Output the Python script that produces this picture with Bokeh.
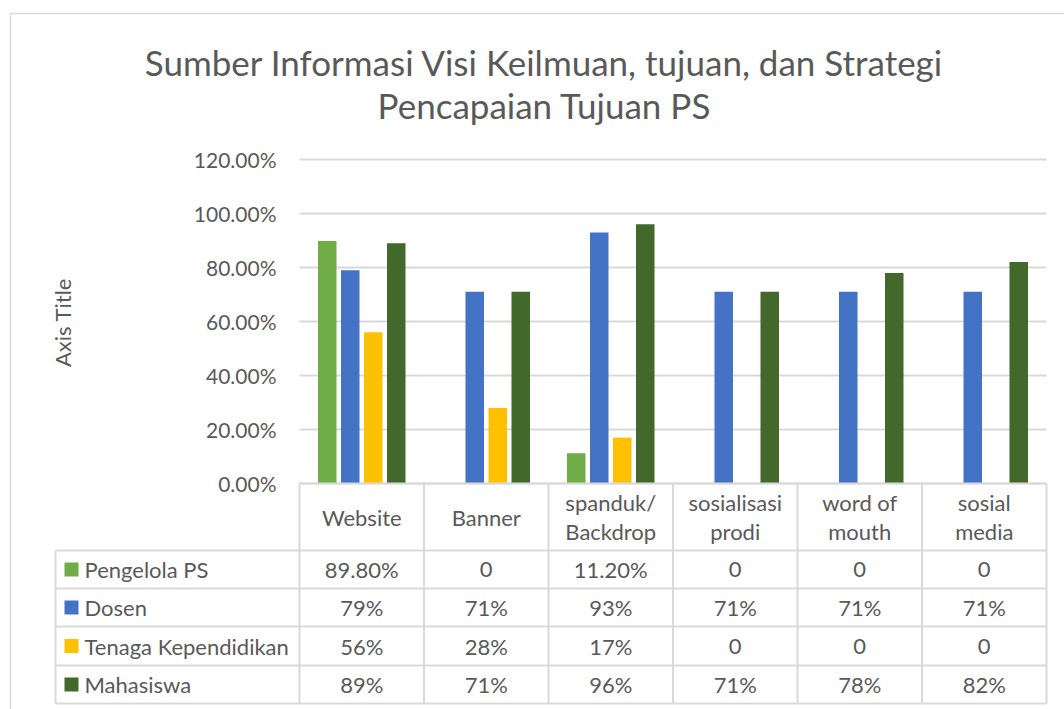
import math
from bokeh.plotting import figure
from bokeh.models import Range1d
from bokeh.embed import file_html
from bokeh.resources import INLINE
from bokeh.core.properties import value

# ---------------- data ----------------
title_lines = ["Sumber Informasi Visi Keilmuan, tujuan, dan Strategi",
               "Pencapaian Tujuan PS"]
categories = ["Website", "Banner", "spanduk/\nBackdrop", "sosialisasi\nprodi",
              "word of\nmouth", "sosial\nmedia"]
series_names = ["Pengelola PS", "Dosen", "Tenaga Kependidikan", "Mahasiswa"]
pengelola_ps = [0.898, 0, 0.112, 0, 0, 0]
dosen = [0.79, 0.71, 0.93, 0.71, 0.71, 0.71]
tenaga_kependidikan = [0.56, 0.28, 0.17, 0, 0, 0]
mahasiswa = [0.89, 0.71, 0.96, 0.71, 0.78, 0.82]
y_ticks = [0.0, 0.2, 0.4, 0.6, 0.8, 1.0, 1.2]
y_tick_labels = ["0.00%", "20.00%", "40.00%", "60.00%", "80.00%", "100.00%", "120.00%"]
value_formats = ["{:.2%}", "{:.0%}", "{:.0%}", "{:.0%}"]
axis_title = "Axis Title"

series_values = [pengelola_ps, dosen, tenaga_kependidikan, mahasiswa]
colors = ["#70AD47", "#4472C4", "#FFC000", "#43682B"]

# ---------------- layout (page pixels) ----------------
W, H = 1064, 709
OFF = 0
PLOT_L, PLOT_R = 299, 1046
ZERO_Y = 483
PX_PER_UNIT = 270.0
CAT_W = (PLOT_R - PLOT_L) / len(categories)
TEXT = "#595959"
LINE = "#d9d9d9"
FONT = value("Lato")


def dx(px):
    return (px - PLOT_L) / CAT_W


def dy(py):
    return (ZERO_Y - py) / PX_PER_UNIT


p = figure(width=W, height=H,
           x_range=Range1d(dx(OFF), dx(OFF + W)),
           y_range=Range1d(dy(OFF + H), dy(OFF)),
           output_backend="svg", toolbar_location=None,
           x_axis_location=None, y_axis_location=None,
           min_border=0, outline_line_color=None)
p.grid.visible = False
p.background_fill_color = "white"

# outer chart border
p.segment(x0=[dx(10), dx(10)], y0=[dy(13), dy(13)],
          x1=[dx(OFF + W + 5), dx(10)], y1=[dy(13), dy(OFF + H + 5)],
          line_color=LINE, line_width=1.5)

# title
for k, t in enumerate(title_lines):
    p.text(x=[dx(544)], y=[dy(61 + 43 * k)], text=[t], text_font=FONT,
           text_font_size="35px", text_color=TEXT,
           text_align="center", text_baseline="middle")

# gridlines
n = len(categories)
p.segment(x0=[0] * len(y_ticks), x1=[n] * len(y_ticks), y0=y_ticks, y1=y_ticks,
          line_color=LINE, line_width=2)

# y tick labels
p.text(x=[dx(276)] * len(y_ticks), y=y_ticks, text=y_tick_labels, text_font=FONT,
       text_font_size="21px", text_color=TEXT, text_align="right",
       text_baseline="middle")

# axis title
p.text(x=[dx(62)], y=[dy(322)], text=[axis_title], angle=math.pi / 2,
       text_font=FONT, text_font_size="22px", text_color=TEXT,
       text_align="center", text_baseline="middle")

# bars
step = 23.0 / CAT_W
bar_w = 18.5 / CAT_W
for j, (vals, col) in enumerate(zip(series_values, colors)):
    off = (j - 1.5) * step
    xs = [i + 0.5 + off for i in range(n)]
    p.vbar(x=xs, top=vals, bottom=0, width=bar_w, fill_color=col,
           line_color=None)

# data table
row_edges = [550, 588, 626, 665, 703]
tbl_l = 55
# horizontal lines
hx0 = [0] + [dx(tbl_l)] * len(row_edges)
hx1 = [n] * (1 + len(row_edges))
hy = [0] + [dy(r) for r in row_edges]
p.segment(x0=hx0, x1=hx1, y0=hy, y1=hy, line_color=LINE, line_width=2)
# vertical lines
vx = [dx(tbl_l)] + list(range(n + 1))
vy0 = [dy(row_edges[0])] + [0] * (n + 1)
vy1 = [dy(row_edges[-1])] * (n + 2)
p.segment(x0=vx, x1=vx, y0=vy0, y1=vy1, line_color=LINE, line_width=2)

# header (category names)
p.text(x=[i + 0.5 for i in range(n)], y=[dy((ZERO_Y + row_edges[0]) / 2)] * n,
       text=categories, text_font=FONT, text_font_size="22px", text_color=TEXT,
       text_align="center", text_baseline="middle", text_line_height=1.08)

# rows
for j, (name, vals, col, fmt) in enumerate(zip(series_names, series_values,
                                               colors, value_formats)):
    yc = dy((row_edges[j] + row_edges[j + 1]) / 2)
    p.rect(x=[dx(71)], y=[yc], width=14 / CAT_W, height=14 / PX_PER_UNIT,
           fill_color=col, line_color=None)
    p.text(x=[dx(84)], y=[yc], text=[name], text_font=FONT,
           text_font_size="22px", text_color=TEXT, text_align="left",
           text_baseline="middle")
    labels = ["0" if v == 0 else fmt.format(v) for v in vals]
    p.text(x=[i + 0.5 for i in range(n)], y=[yc] * n, text=labels,
           text_font=FONT, text_font_size="22px", text_color=TEXT,
           text_align="center", text_baseline="middle")

open("out.html", "w").write(file_html(p, INLINE))
